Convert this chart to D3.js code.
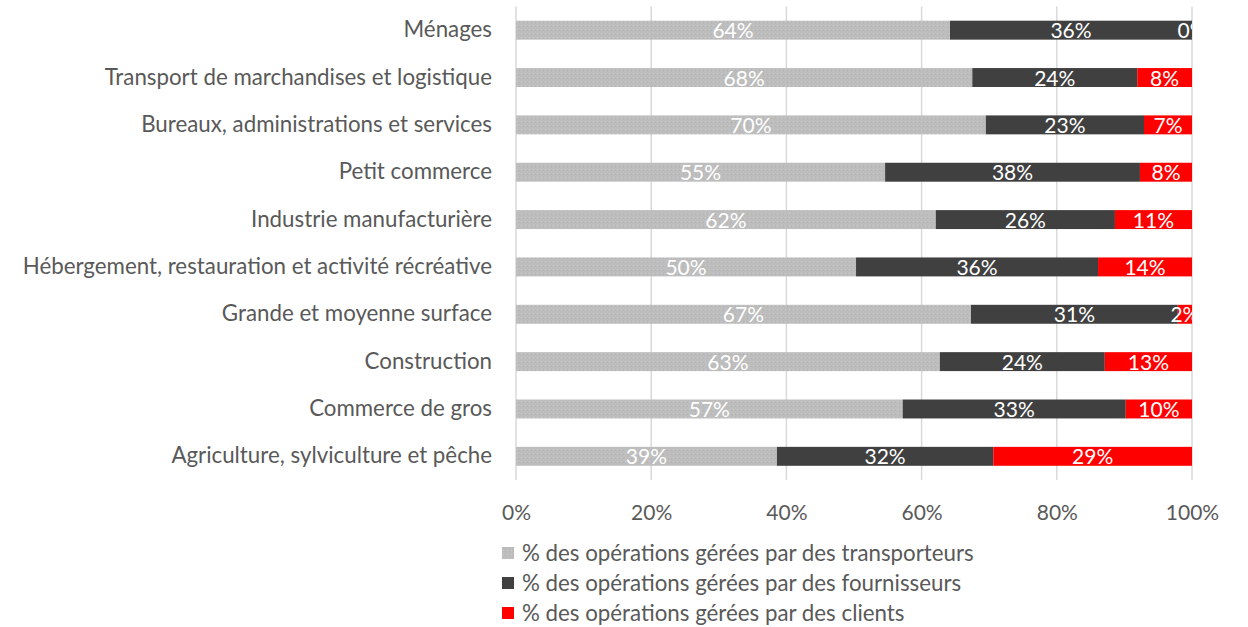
<!DOCTYPE html>
<html>
<head>
<meta charset="utf-8">
<script src="https://cdn.jsdelivr.net/npm/d3@7"></script>
<style>
  body { margin: 0; background: #fff; }
  text { font-family: Lato, "Open Sans", sans-serif; }
</style>
</head>
<body>
<div id="chart"></div>
<script>
// categories, top to bottom
var categories = [
    "Ménages",
    "Transport de marchandises et logistique",
    "Bureaux, administrations et services",
    "Petit commerce",
    "Industrie manufacturière",
    "Hébergement, restauration et activité récréative",
    "Grande et moyenne surface",
    "Construction",
    "Commerce de gros",
    "Agriculture, sylviculture et pêche"
];

var transporteurs = [64.2, 67.5, 69.5, 54.6, 62.1, 50.3, 67.3, 62.7, 57.2, 38.6];
var fournisseurs  = [35.8, 24.4, 23.4, 37.7, 26.5, 35.8, 30.6, 24.4, 33.0, 32.0];
var clients       = [0.0,  8.1,  7.1,  7.7,  11.4, 13.9, 2.1,  12.9, 9.8,  29.4];

var seriesNames = [
    "% des opérations gérées par des transporteurs",
    "% des opérations gérées par des fournisseurs",
    "% des opérations gérées par des clients"
];
var seriesColors = ["#bdbdbd", "#404040", "#ff0000"];
var xTicks = [0, 20, 40, 60, 80, 100];

var width = 1248, height = 627;
var plotLeft = 516, plotRight = 1192, plotTop = 6.5, plotBottom = 480;
var labelSize = "22.3px";   // category names, legend
var numSize = "21px";       // ticks, data labels

var rows = categories.map(function(c, i) {
    return { cat: c, t: transporteurs[i], f: fournisseurs[i], c: clients[i] };
});

var svg = d3.select("#chart").append("svg")
    .attr("width", width)
    .attr("height", height);

var x = d3.scaleLinear().domain([0, 100]).range([plotLeft, plotRight]);
var y = d3.scaleBand().domain(categories).range([plotTop, plotBottom]).paddingInner(0.6).paddingOuter(0.3);

// light texture for the first series
var defs = svg.append("defs");
var pat = defs.append("pattern")
    .attr("id", "tex")
    .attr("width", 4).attr("height", 4)
    .attr("patternUnits", "userSpaceOnUse");
pat.append("rect").attr("width", 4).attr("height", 4).attr("fill", "#bdbdbd");
pat.append("rect").attr("x", 1).attr("y", 1).attr("width", 1).attr("height", 1).attr("fill", "#c9c9c9");
pat.append("rect").attr("x", 3).attr("y", 2).attr("width", 1).attr("height", 1).attr("fill", "#b3b3b3");

defs.append("clipPath").attr("id", "plotclip")
    .append("rect").attr("x", plotLeft).attr("y", 0).attr("width", plotRight - plotLeft).attr("height", plotBottom);

// gridlines
svg.append("g")
    .selectAll("line")
    .data(xTicks)
    .join("line")
    .attr("x1", d => x(d)).attr("x2", d => x(d))
    .attr("y1", plotTop).attr("y2", plotBottom)
    .attr("stroke", "#d9d9d9")
    .attr("stroke-width", 1.5);

// x axis
var xAxis = svg.append("g")
    .attr("transform", "translate(0," + (plotBottom + 22) + ")")
    .call(d3.axisBottom(x).tickValues(xTicks).tickFormat(d => d + "%").tickSize(0));
xAxis.select(".domain").remove();
xAxis.selectAll("text")
    .attr("fill", "#595959")
    .style("font-size", numSize);

// y axis
var yAxis = svg.append("g")
    .attr("transform", "translate(" + (plotLeft - 21) + ",0)")
    .call(d3.axisLeft(y).tickSize(0));
yAxis.select(".domain").remove();
yAxis.selectAll("text")
    .attr("fill", "#595959")
    .style("font-size", labelSize);

var stack = d3.stack().keys(["t", "f", "c"]);
var stacked = stack(rows);
var fills = ["url(#tex)", seriesColors[1], seriesColors[2]];

var layers = svg.append("g").attr("clip-path", "url(#plotclip)")
    .selectAll("g")
    .data(stacked)
    .join("g")
    .attr("fill", (d, i) => fills[i]);

layers.selectAll("rect")
    .data(d => d)
    .join("rect")
    .attr("x", d => x(d[0]))
    .attr("y", d => y(d.data.cat))
    .attr("width", d => x(d[1]) - x(d[0]))
    .attr("height", y.bandwidth());

layers.selectAll("text")
    .data(d => d)
    .join("text")
    .attr("x", d => (x(d[0]) + x(d[1])) / 2)
    .attr("y", d => y(d.data.cat) + y.bandwidth() / 2)
    .attr("dy", "0.38em")
    .attr("text-anchor", "middle")
    .attr("fill", "#ffffff")
    .style("font-size", numSize)
    .text(d => Math.round(d[1] - d[0]) + "%");

// legend
var legend = svg.append("g")
    .selectAll("g")
    .data(seriesNames)
    .join("g")
    .attr("transform", (d, i) => "translate(502," + (553 + i * 30) + ")");

legend.append("rect")
    .attr("x", 0).attr("y", -6)
    .attr("width", 12).attr("height", 12)
    .attr("fill", (d, i) => fills[i]);

legend.append("text")
    .attr("x", 20)
    .attr("dy", "0.36em")
    .attr("fill", "#595959")
    .style("font-size", labelSize)
    .text(d => d);
</script>
</body>
</html>
